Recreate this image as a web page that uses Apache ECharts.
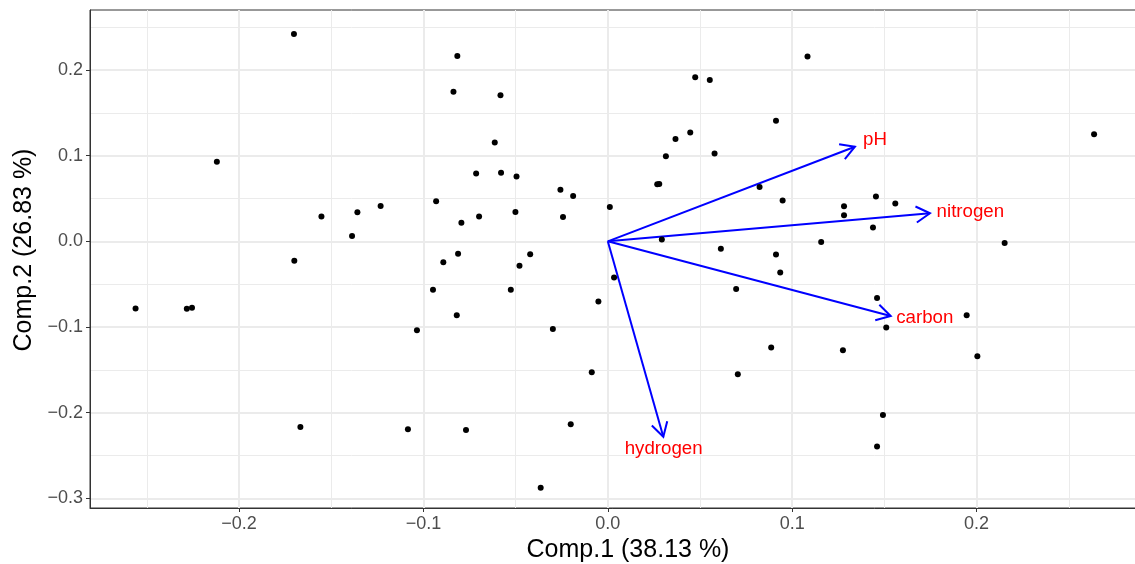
<!DOCTYPE html>
<html>
<head>
<meta charset="utf-8">
<script src="https://cdn.jsdelivr.net/npm/echarts@6/dist/echarts.min.js"></script>
<style>
  html, body { margin: 0; padding: 0; background: #fff; }
  #chart { width: 1135px; height: 564px; }
</style>
</head>
<body>
<div id="chart"></div>
<script>
// PCA scores (Comp.1, Comp.2)
var comp1 = [
  -0.1702, -0.2120, -0.1553, -0.1358, -0.1232, -0.1387, -0.1700, -0.0816, -0.0837, -0.0582,
  -0.0613, -0.0714, -0.0579, -0.0495, -0.0257, -0.0188, -0.0931, -0.0794, -0.0698, -0.0501,
  -0.0243, 0.0011, 0.0315, 0.0367, 0.0268, 0.0279, 0.0293, -0.0812, -0.0421, -0.0892,
  0.1083, 0.0474, 0.0553, 0.0912, 0.0447, 0.0579, 0.0823, 0.0948, 0.1281, 0.1454,
  0.1559, 0.1281, 0.1438, 0.1157, 0.0613, 0.0912, 0.2637, 0.2152, -0.2561, -0.2283,
  -0.2255, -0.1667, -0.0479, 0.0034, -0.0948, -0.0526, -0.0051, -0.0819, -0.1035, -0.0298,
  -0.0087, -0.1084, -0.0769, -0.0201, -0.0364, 0.0935, 0.0696, 0.1460, 0.1510, 0.1946,
  0.0886, 0.1275, 0.0705, 0.1492, 0.1460, 0.2004
];
var comp2 = [
  0.2421, 0.0928, 0.0289, 0.0339, 0.0413, 0.0062, -0.0226, 0.2164, 0.1746, 0.1704,
  0.1154, 0.0791, 0.0799, 0.0756, 0.0601, 0.0530, 0.0468, 0.0218, 0.0289, 0.0343,
  0.0285, 0.0401, 0.0994, 0.1193, 0.0667, 0.0670, 0.0020, -0.0144, -0.0152, -0.0245,
  0.2156, 0.1914, 0.1883, 0.1407, 0.1271, 0.1025, 0.0635, 0.0476, 0.0409, 0.0523,
  0.0441, 0.0304, 0.0160, -0.0008, -0.0088, -0.0154, 0.1251, -0.0020, -0.0784, -0.0788,
  -0.0776, -0.2168, -0.0285, -0.0421, -0.0565, -0.0565, -0.0702, -0.0862, -0.1037, -0.1025,
  -0.1528, -0.2195, -0.2203, -0.2136, -0.2877, -0.0363, -0.0557, -0.0663, -0.1006, -0.0862,
  -0.1240, -0.1271, -0.1552, -0.2027, -0.2394, -0.1341
];

// loadings (arrow tips) and where their labels sit
var varNames = ['pH', 'nitrogen', 'carbon', 'hydrogen'];
var loadX = [0.1340, 0.1747, 0.1534, 0.0301];
var loadY = [0.1104, 0.0327, -0.0872, -0.2281];
var labelX = [0.1449, 0.1966, 0.1719, 0.0303];
var labelY = [0.1183, 0.0342, -0.0895, -0.2420];

var xTitle = 'Comp.1 (38.13 %)';
var yTitle = 'Comp.2 (26.83 %)';
var xMin = -0.2808, xMax = 0.3027;
var yMin = -0.3113, yMax = 0.2700;

var points = comp1.map(function (x, i) { return [x, comp2[i]]; });
var arrows = loadX.map(function (x, i) { return [x, loadY[i]]; });
var labels = labelX.map(function (x, i) { return { name: varNames[i], value: [x, labelY[i]] }; });

function fmt(v) {
  if (Math.abs(v) < 1e-9) return '0.0';
  return (v < 0 ? '\u2212' : '') + Math.abs(v).toFixed(1);
}

// open arrow head like ggplot's arrow()
function renderArrow(params, api) {
  var p0 = api.coord([0, 0]);
  var p1 = api.coord([api.value(0), api.value(1)]);
  var ang = Math.atan2(p1[1] - p0[1], p1[0] - p0[0]);
  var len = 16, spread = Math.PI / 6;
  var h1 = [p1[0] - len * Math.cos(ang - spread), p1[1] - len * Math.sin(ang - spread)];
  var h2 = [p1[0] - len * Math.cos(ang + spread), p1[1] - len * Math.sin(ang + spread)];
  return {
    type: 'group',
    children: [
      { type: 'line', shape: { x1: p0[0], y1: p0[1], x2: p1[0], y2: p1[1] },
        style: { stroke: '#0000ff', lineWidth: 2 } },
      { type: 'polyline', shape: { points: [h1, p1, h2] },
        style: { stroke: '#0000ff', lineWidth: 2, fill: null } }
    ]
  };
}

var font = 'Liberation Sans, Arial, sans-serif';
var chart = echarts.init(document.getElementById('chart'));

var gridLine = function (w) {
  return { show: true, showMinLine: false, showMaxLine: false,
    lineStyle: { color: '#ebebeb', width: w } };
};

chart.setOption({
  animation: false,
  textStyle: { fontFamily: font },
  grid: {
    left: 90, right: -31, top: 10, bottom: 56,
    show: true, borderColor: '#333333', borderWidth: 1,
    containLabel: false, outerBoundsMode: 'none'
  },
  xAxis: [{
    type: 'value', min: xMin, max: xMax, splitNumber: 6,
    name: xTitle, nameLocation: 'middle', nameGap: 26,
    nameTextStyle: { fontSize: 25, color: '#000', fontFamily: font },
    axisLine: { show: true, onZero: false, lineStyle: { color: '#333333', width: 1 } },
    axisTick: { show: true, length: 4, lineStyle: { color: '#333333', width: 1 } },
    axisLabel: { fontSize: 18, color: '#4d4d4d', margin: 7, fontFamily: font,
      showMinLabel: false, showMaxLabel: false, formatter: fmt },
    splitLine: gridLine(2),
    z: 1
  }, {
    // minor grid
    type: 'value', min: xMin, max: xMax, splitNumber: 12, position: 'bottom',
    axisLine: { show: false }, axisTick: { show: false }, axisLabel: { show: false },
    splitLine: gridLine(1),
    z: 0
  }],
  yAxis: [{
    type: 'value', min: yMin, max: yMax, splitNumber: 6,
    name: yTitle, nameLocation: 'middle', nameGap: 50, nameRotate: 90,
    nameTextStyle: { fontSize: 25, color: '#000', fontFamily: font, padding: [0, 0, 0, 18] },
    axisLine: { show: true, onZero: false, lineStyle: { color: '#333333', width: 1 } },
    axisTick: { show: true, length: 4, lineStyle: { color: '#333333', width: 1 } },
    axisLabel: { fontSize: 18, color: '#4d4d4d', margin: 7, fontFamily: font,
      showMinLabel: false, showMaxLabel: false, formatter: fmt },
    splitLine: gridLine(2),
    z: 1
  }, {
    type: 'value', min: yMin, max: yMax, splitNumber: 12, position: 'left',
    axisLine: { show: false }, axisTick: { show: false }, axisLabel: { show: false },
    splitLine: gridLine(1),
    z: 0
  }],
  series: [{
    type: 'custom',
    coordinateSystem: 'cartesian2d',
    xAxisIndex: 0, yAxisIndex: 0,
    renderItem: renderArrow,
    data: arrows,
    encode: { x: 0, y: 1 },
    z: 3,
    silent: true
  }, {
    type: 'scatter',
    xAxisIndex: 0, yAxisIndex: 0,
    data: points,
    symbol: 'circle',
    symbolSize: 6,
    itemStyle: { color: '#000', opacity: 1 },
    z: 4,
    silent: true
  }, {
    type: 'scatter',
    xAxisIndex: 0, yAxisIndex: 0,
    data: labels,
    symbolSize: 0,
    itemStyle: { opacity: 1 },
    label: {
      show: true, position: 'inside', formatter: '{b}',
      color: '#ff0000', fontSize: 18.7, fontFamily: font
    },
    z: 5,
    silent: true
  }]
});
</script>
</body>
</html>
